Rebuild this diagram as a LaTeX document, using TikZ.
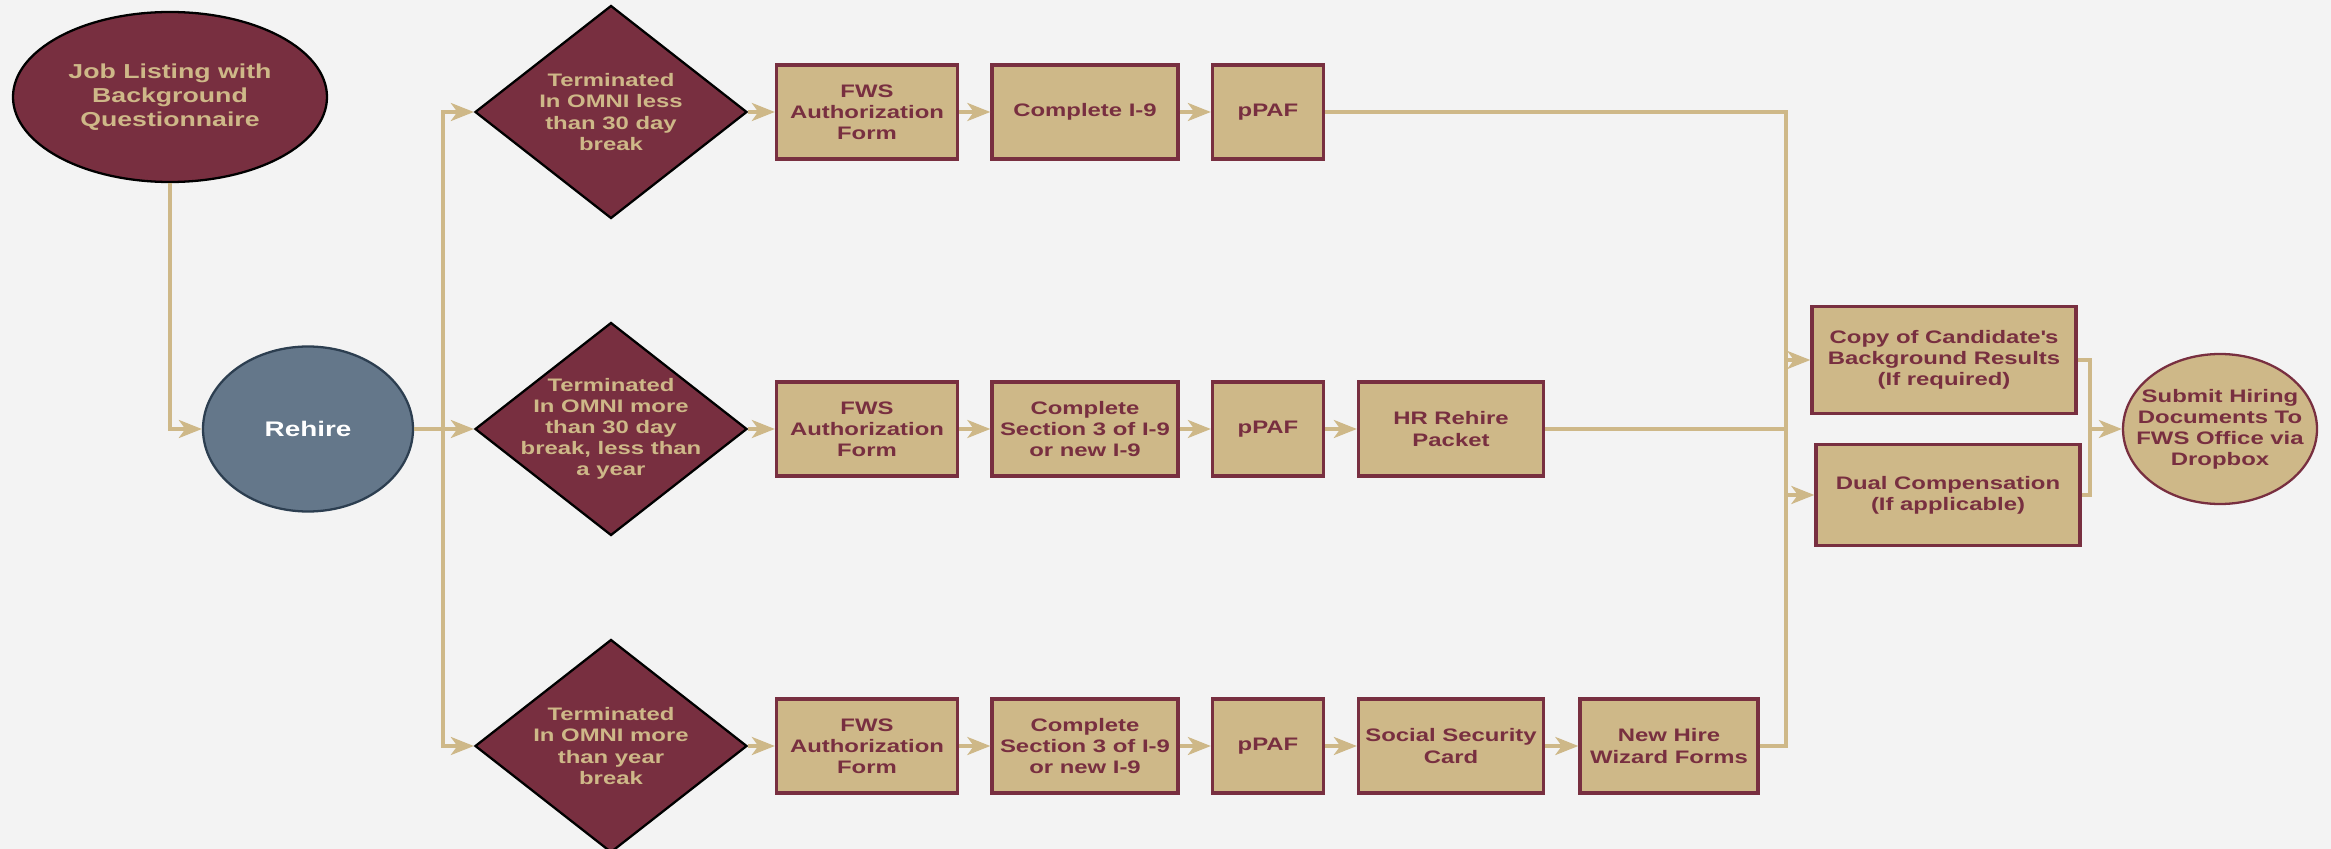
\documentclass[tikz,border=0pt]{standalone}
\usepackage{fontspec}
\newfontfamily\chartfont{Liberation Sans}[FakeStretch=1.32]
\usepackage{tikz}
\usetikzlibrary{shapes,arrows.meta,positioning,calc}
\definecolor{Garnet}{HTML}{782F40}
\definecolor{Gold}{HTML}{CEB888}
\definecolor{Slate}{HTML}{64778A}
\definecolor{SlateLine}{HTML}{2C3E50}
\definecolor{Page}{HTML}{F3F3F3}
\newcommand{\flowfont}{\chartfont\bfseries\fontsize{10.3}{12}\selectfont}
\tikzstyle{Box} = [rectangle, draw=Garnet, fill=Gold, line width=1.9pt, text=Garnet, minimum height=1.88cm, inner sep=0pt, font=\flowfont]
\tikzstyle{Decision} = [diamond, draw=black, fill=Garnet, line width=1.3pt, text=Gold, aspect=1.28, minimum width=5.44cm, minimum height=4.26cm, inner xsep=-0.6cm, inner ysep=0pt, font=\flowfont]
\tikzstyle{Start} = [ellipse, draw=black, fill=Garnet, line width=1.3pt, text=Gold, minimum width=6.28cm, minimum height=3.40cm, inner sep=0pt, font=\chartfont\bfseries\fontsize{11.5}{13.7}\selectfont]
\tikzstyle{Hub} = [ellipse, draw=SlateLine, fill=Slate, line width=1.3pt, text=white, minimum width=4.20cm, minimum height=3.30cm, inner sep=0pt, font=\chartfont\bfseries\fontsize{12}{14}\selectfont]
\tikzstyle{End} = [ellipse, draw=Garnet, fill=Gold, line width=1.3pt, text=Garnet, minimum width=3.88cm, minimum height=3.00cm, inner xsep=-0.6cm, inner ysep=0pt, font=\flowfont]
\tikzstyle{link} = [line width=2pt, draw=Gold]
\tikzstyle{arrow} = [link, -{Stealth[length=0.46cm, width=0.36cm, inset=0.13cm]}]

\begin{document}
\begin{tikzpicture}[every text node part/.style={align=center}]
\fill[Page](0,0) rectangle (46.62,-16.98);
\useasboundingbox (0,0) rectangle (46.62,-16.98);

\node (Job Listing)[Start] at (3.40,-1.94){Job Listing with\\ Background\\ Questionnaire};
\node (Rehire)[Hub, below of = Job Listing, yshift=-5.64cm, xshift=2.76cm]{Rehire};

\node (Under Year)[Decision, right of = Rehire, xshift=5.06cm]{Terminated\\ In OMNI more\\ than 30 day\\ break, less than\\ a year};
\node (Under 30)[Decision, above of = Under Year, yshift=5.34cm]{Terminated\\ In OMNI less\\ than 30 day\\ break};
\node (Over Year)[Decision, below of = Under Year, yshift=-5.34cm]{Terminated\\ In OMNI more\\ than year\\ break};

\node (FWS A)[Box, minimum width=3.62cm, right of = Under 30, xshift=4.12cm]{FWS\\ Authorization\\ Form};
\node (I9 A)[Box, minimum width=3.72cm, right of = FWS A, xshift=3.36cm]{Complete I-9};
\node (pPAF A)[Box, minimum width=2.22cm, right of = I9 A, xshift=2.66cm]{pPAF};

\node (FWS B)[Box, minimum width=3.62cm, right of = Under Year, xshift=4.12cm]{FWS\\ Authorization\\ Form};
\node (Section3 B)[Box, minimum width=3.72cm, right of = FWS B, xshift=3.36cm]{Complete\\ Section 3 of I-9\\ or new I-9};
\node (pPAF B)[Box, minimum width=2.22cm, right of = Section3 B, xshift=2.66cm]{pPAF};
\node (HR Packet)[Box, minimum width=3.70cm, right of = pPAF B, xshift=2.66cm]{HR Rehire\\ Packet};

\node (FWS C)[Box, minimum width=3.62cm, right of = Over Year, xshift=4.12cm]{FWS\\ Authorization\\ Form};
\node (Section3 C)[Box, minimum width=3.72cm, right of = FWS C, xshift=3.36cm]{Complete\\ Section 3 of I-9\\ or new I-9};
\node (pPAF C)[Box, minimum width=2.22cm, right of = Section3 C, xshift=2.66cm]{pPAF};
\node (Social Security)[Box, minimum width=3.70cm, right of = pPAF C, xshift=2.66cm]{Social Security\\ Card};
\node (New Hire)[Box, minimum width=3.56cm, right of = Social Security, xshift=3.36cm]{New Hire\\ Wizard Forms};

\node (Background Copy)[Box, minimum width=5.28cm, minimum height=2.14cm, right of = HR Packet, xshift=8.86cm, yshift=1.38cm]{Copy of Candidate\textquotesingle s\\ Background Results\\ (If required)};
\node (Dual Comp)[Box, minimum width=5.28cm, minimum height=2.02cm, right of = HR Packet, xshift=8.94cm, yshift=-1.32cm]{Dual Compensation\\ (If applicable)};
\node (Submit)[End, right of = HR Packet, xshift=14.38cm]{Submit Hiring\\ Documents To\\ FWS Office via\\ Dropbox};

\coordinate (Collect) at ($(HR Packet)+(6.70cm,0)$);
\coordinate (Join) at ($(HR Packet)+(12.78cm,0)$);

\draw[arrow](Job Listing)|-(Rehire);
\draw[arrow](Rehire.east)--++(0.58cm,0pt) |- (Under 30.west);
\draw[arrow](Rehire.east)--++(0.58cm,0pt) |- (Over Year.west);
\draw[arrow](Rehire)--(Under Year);

\draw[arrow](Under 30)--(FWS A);
\draw[arrow](FWS A)--(I9 A);
\draw[arrow](I9 A)--(pPAF A);
\draw[arrow](Under Year)--(FWS B);
\draw[arrow](FWS B)--(Section3 B);
\draw[arrow](Section3 B)--(pPAF B);
\draw[arrow](pPAF B)--(HR Packet);
\draw[arrow](Over Year)--(FWS C);
\draw[arrow](FWS C)--(Section3 C);
\draw[arrow](Section3 C)--(pPAF C);
\draw[arrow](pPAF C)--(Social Security);
\draw[arrow](Social Security)--(New Hire);

\draw[link](pPAF A)-|(Collect);
\draw[link](HR Packet)--(Collect);
\draw[link](New Hire)-|(Collect);
\draw[arrow](Collect)|-(Background Copy);
\draw[arrow](Collect)|-(Dual Comp);
\draw[link](Background Copy)-|(Join);
\draw[link](Dual Comp)-|(Join);
\draw[arrow](Join)--(Submit);

\end{tikzpicture}
\end{document}
